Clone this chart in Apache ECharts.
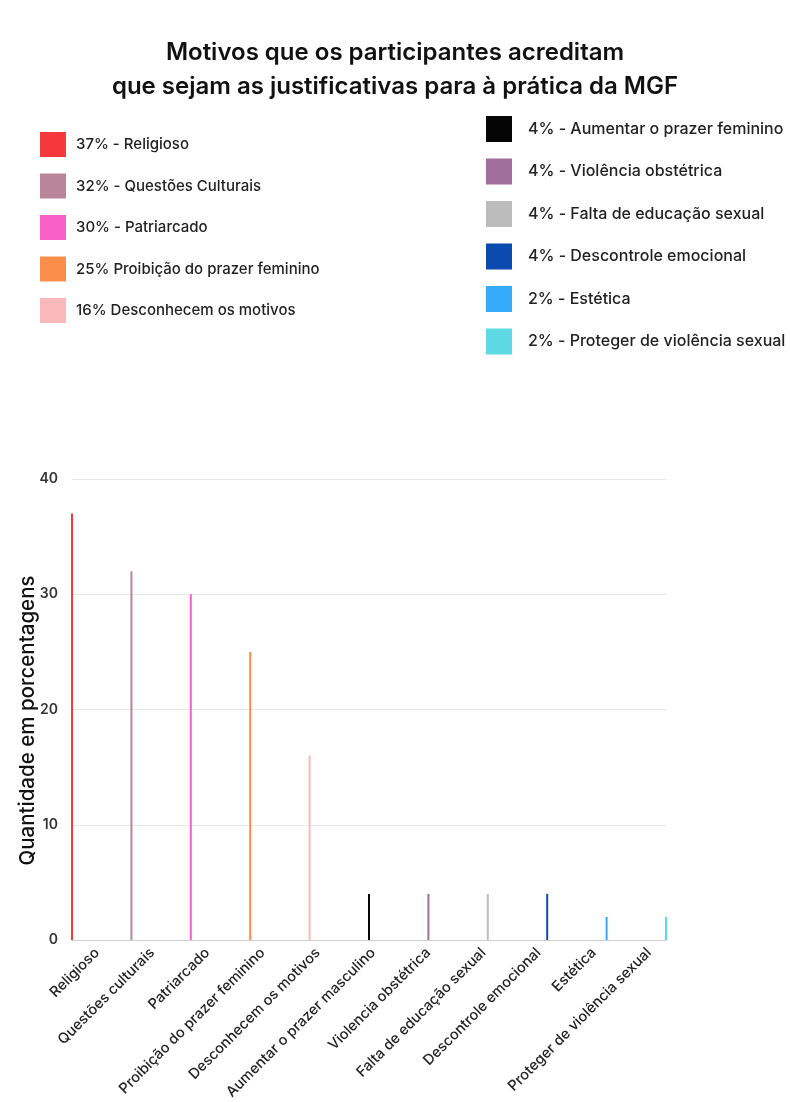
<!DOCTYPE html>
<html>
<head>
<meta charset="utf-8">
<script src="https://cdn.jsdelivr.net/npm/echarts@6/dist/echarts.min.js"></script>
<style>
  html, body { margin: 0; padding: 0; background: #fff; }
  #chart { width: 790px; height: 1102px; }
</style>
</head>
<body>
<div id="chart"></div>
<script>
// Categories shown along the x axis
const categories = [
  'Religioso', 'Questões culturais', 'Patriarcado', 'Proibição do prazer feminino',
  'Desconhecem os motivos', 'Aumentar o prazer masculino', 'Violencia obstétrica',
  'Falta de educação sexual', 'Descontrole emocional', 'Estética', 'Proteger de violência sexual'
];
// Percent of participants for each reason
const values = [37, 32, 30, 25, 16, 4, 4, 4, 4, 2, 2];
// Legend entries (one per reason)
const legendLabels = [
  '37% - Religioso', '32% - Questões Culturais', '30% - Patriarcado',
  '25% Proibição do prazer feminino', '16% Desconhecem os motivos',
  '4% - Aumentar o prazer feminino', '4% - Violência obstétrica',
  '4% - Falta de educação sexual', '4% - Descontrole emocional',
  '2% - Estética', '2% - Proteger de violência sexual'
];
const colors = [
  '#f5383c', '#b98699', '#f860c6', '#fb8e4a', '#fbb8bb',
  '#050505', '#a26e9b', '#bcbcbc', '#0b4bb0', '#35aaf8', '#5cd9e3'
];
const yTicks = [0, 10, 20, 30, 40];

const FONT = 'Inter, "Open Sans", sans-serif';

// One series per reason so each gets its own legend entry
const series = values.map((v, i) => ({
  name: legendLabels[i],
  type: 'bar',
  stack: 'total',
  barWidth: 2,
  xAxisIndex: 0,
  yAxisIndex: 0,
  itemStyle: { color: colors[i] },
  data: values.map((_, j) => (j === i ? v : '-'))
}));

const option = {
  backgroundColor: '#fff',
  animation: false,
  title: {
    text: 'Motivos que os participantes acreditam\nque sejam as justificativas para à prática da MGF',
    left: 'center',
    top: 31,
    textStyle: {
      fontFamily: FONT, fontSize: 24, fontWeight: 600, color: '#111', lineHeight: 34, align: 'center'
    }
  },
  legend: [
    {
      data: legendLabels.slice(0, 5),
      orient: 'vertical',
      left: 35, top: 127,
      itemWidth: 26, itemHeight: 25, itemGap: 16.5,
      icon: 'rect',
      textStyle: { fontFamily: FONT, fontSize: 15, fontWeight: 500, color: '#222', padding: [0, 0, 0, 5] },
      selectedMode: false
    },
    {
      data: legendLabels.slice(5),
      orient: 'vertical',
      left: 481, top: 111,
      itemWidth: 26, itemHeight: 26, itemGap: 16.5,
      icon: 'rect',
      textStyle: { fontFamily: FONT, fontSize: 16, fontWeight: 500, color: '#222', padding: [0, 0, 0, 11] },
      selectedMode: false
    }
  ],
  grid: [
    { left: 72, right: 124, top: 479, bottom: 162 },
    { left: 97, right: 141, top: 479, bottom: 162 }
  ],
  xAxis: [
    {
      type: 'category', gridIndex: 0, data: categories, boundaryGap: false,
      axisLine: { lineStyle: { color: '#cfcfcf', width: 1 } },
      axisTick: { show: false },
      axisLabel: { show: false }
    },
    {
      type: 'category', gridIndex: 1, data: categories, boundaryGap: false,
      axisLine: { show: false }, axisTick: { show: false },
      axisLabel: {
        rotate: 45, interval: 0, margin: 17,
        fontFamily: FONT, fontSize: 14.5, fontWeight: 500, color: '#222'
      }
    }
  ],
  yAxis: [
    {
      type: 'value', gridIndex: 0, min: yTicks[0], max: yTicks[yTicks.length - 1], interval: 10,
      name: 'Quantidade em porcentagens',
      nameLocation: 'middle', nameGap: 34,
      nameMoveOverlap: false,
      nameTextStyle: { fontFamily: FONT, fontSize: 20.5, fontWeight: 500, color: '#111', padding: [0, 22, 0, 0] },
      axisLine: { show: false }, axisTick: { show: false },
      axisLabel: { margin: 14, fontFamily: FONT, fontSize: 14, fontWeight: 600, color: '#333' },
      splitLine: { lineStyle: { color: '#e8e8e8' } }
    },
    {
      type: 'value', gridIndex: 1, min: 0, max: 40, show: false
    }
  ],
  series
};

echarts.init(document.getElementById('chart'), null, { renderer: 'canvas' }).setOption(option);
</script>
</body>
</html>
